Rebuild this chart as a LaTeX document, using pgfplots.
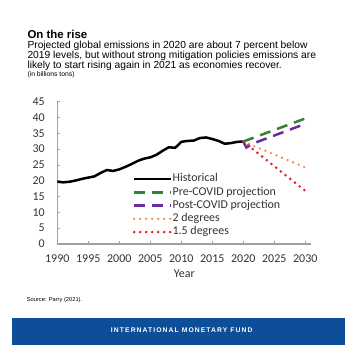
\documentclass[border=0pt]{standalone}
\usepackage{fontspec}
\setmainfont{Liberation Sans}
\newfontfamily\chartfont{Carlito}
\newfontfamily\bannerfont[LetterSpace=16]{Liberation Sans Bold}
\usepackage{pgfplots}
\pgfplotsset{compat=1.18}
\definecolor{prec}{RGB}{52,130,52}
\definecolor{postc}{RGB}{106,44,158}
\definecolor{twoc}{RGB}{240,140,70}
\definecolor{onefivec}{RGB}{226,32,43}
\definecolor{imfblue}{RGB}{12,78,152}
\definecolor{axgray}{RGB}{160,160,160}
\definecolor{ticktext}{RGB}{51,51,51}
\begin{document}
\begin{tikzpicture}
\useasboundingbox (0,0) rectangle (356bp,360bp);
\node[anchor=base west, inner sep=0] at (27.3bp,321bp) {\fontsize{11.5}{13}\selectfont\bfseries On the rise};
\node[anchor=base west, inner sep=0] at (27.3bp,311bp) {\fontsize{10.3}{12}\selectfont Projected global emissions in 2020 are about 7 percent below};
\node[anchor=base west, inner sep=0] at (27.3bp,301bp) {\fontsize{10.3}{12}\selectfont 2019 levels, but without strong mitigation policies emissions are};
\node[anchor=base west, inner sep=0] at (27.3bp,291bp) {\fontsize{10.3}{12}\selectfont likely to start rising again in 2021 as economies recover.};
\node[anchor=base west, inner sep=0] at (27.3bp,283bp) {\fontsize{6.8}{8}\selectfont (in billions tons)};
\node[anchor=base west, inner sep=0] at (26.7bp,58.5bp) {\fontsize{5.75}{7}\selectfont Source: Parry (2021).};
\fill[imfblue] (12bp,15bp) rectangle (345bp,42bp);
\node[inner sep=0, text=white] at (181.7bp,30bp) {\bannerfont\fontsize{6.8}{8}\selectfont INTERNATIONAL MONETARY FUND};
\begin{axis}[
  at={(57.3bp,116bp)}, anchor=south west,
  scale only axis, width=254.2bp, height=142.3bp,
  xmin=1990, xmax=2031, ymin=0, ymax=45,
  axis x line=bottom, axis y line=left,
  axis line style={draw=axgray, line width=1.2bp, -},
  xtick={1990,1995,...,2030}, ytick={0,5,...,45},
  tick align=inside, major tick length=2.5bp,
  tick style={draw=axgray, line width=0.8bp},
  /pgf/number format/assume math mode=true,
  /pgf/number format/set thousands separator={},
  ticklabel style={font=\chartfont\fontsize{12}{14}\selectfont, text=ticktext, inner sep=0pt},
  xticklabel style={anchor=base, yshift=-18.1bp},
  yticklabel style={anchor=east, xshift=-12.4bp},
  xlabel={Year},
  xlabel style={at={(axis description cs:0.5,0)}, anchor=base, yshift=-33.7bp, inner sep=0pt, font=\chartfont\fontsize{12}{14}\selectfont, text=ticktext},
  legend style={at={(0.296,0.49)}, anchor=north west, draw=none, fill=none, inner sep=0pt,
    font=\chartfont\fontsize{12}{14}\selectfont, text=ticktext, row sep=3.7bp, column sep=0bp,
    nodes={inner sep=0pt, text height=7.5bp, text depth=2bp}},
  legend cell align=left,
  legend image code/.code={\draw[#1] (0bp,0bp) -- (37bp,0bp);},
]
\addplot[black, line width=2.5bp, line join=round] coordinates {
(1990,19.7) (1991,19.5) (1992,19.7) (1993,20.1) (1994,20.6) (1995,21.0)
(1996,21.4) (1997,22.5) (1998,23.4) (1999,23.1) (2000,23.6) (2001,24.4)
(2002,25.3) (2003,26.3) (2004,27.0) (2005,27.4) (2006,28.2) (2007,29.5)
(2008,30.6) (2009,30.4) (2010,32.3) (2011,32.6) (2012,32.7) (2013,33.5)
(2014,33.7) (2015,33.2) (2016,32.6) (2017,31.7) (2018,31.9) (2019,32.3) (2020,32.4)};
\addlegendentry{Historical}
\addplot[prec, line width=2.5bp, dash pattern=on 11bp off 7bp] coordinates {(2020,32.4) (2030,39.7)};
\addlegendentry{Pre-COVID projection}
\addplot[postc, line width=2.5bp, dash pattern=on 11bp off 7bp] coordinates {(2020,32.4) (2020.5,30.5) (2021.6,31.8) (2030,38.0)};
\addlegendentry{Post-COVID projection}
\addplot[twoc, line width=2.6bp, line cap=round, dash pattern=on 0bp off 6bp] coordinates {(2020,32.4) (2030,24.2)};
\addlegendentry{2 degrees}
\addplot[onefivec, line width=2.9bp, line cap=round, dash pattern=on 0bp off 6bp] coordinates {(2020,32.4) (2030,16.8)};
\addlegendentry{1.5 degrees}
\end{axis}
\end{tikzpicture}
\end{document}
